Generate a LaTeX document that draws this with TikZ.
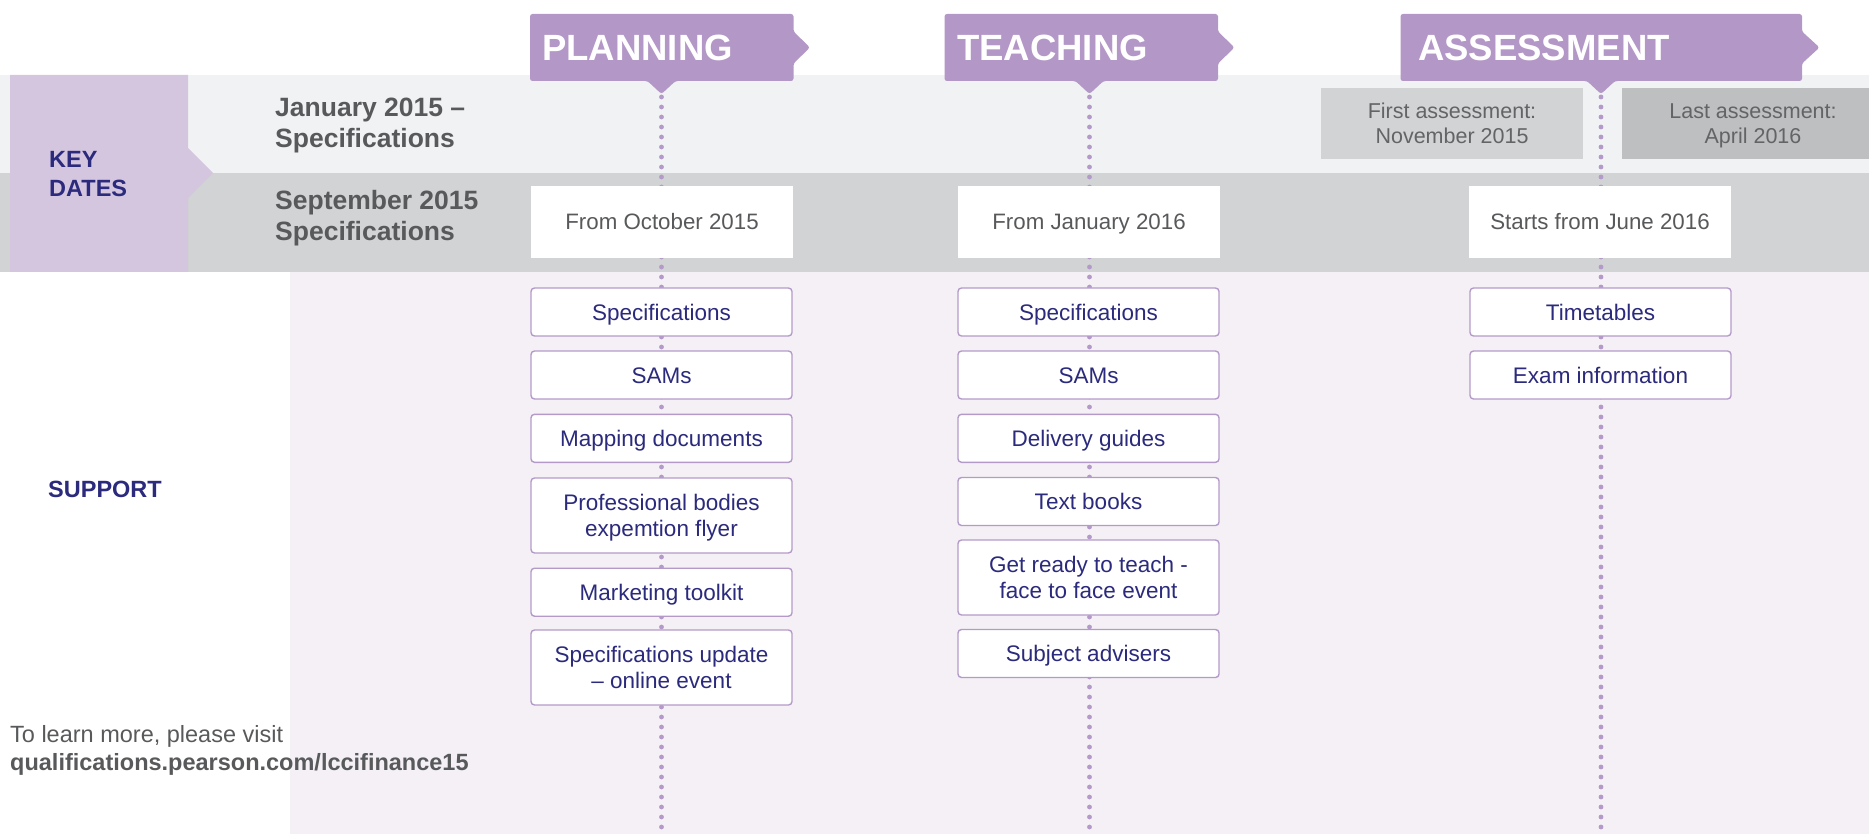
\documentclass[tikz,border=0pt]{standalone}
\usepackage{fontspec}
\setmainfont{Liberation Sans}
\definecolor{tabc}{HTML}{B397C6}
\definecolor{keyc}{HTML}{D5C6E0}
\definecolor{bandl}{HTML}{F1F2F4}
\definecolor{bandd}{HTML}{D1D3D4}
\definecolor{lav}{HTML}{F5F0F6}
\definecolor{navy}{HTML}{2B2A7C}
\definecolor{greyt}{HTML}{58595B}
\definecolor{greyl}{HTML}{636466}
\definecolor{dotc}{HTML}{B49AC9}
\definecolor{asone}{HTML}{D1D3D4}
\definecolor{astwo}{HTML}{BEBFC1}
\tikzset{
  dotline/.style={dotc, line width=4.8pt, line cap=round, dash pattern=on 0pt off 10pt},
  tabshape/.style={fill=tabc, rounded corners=2.5pt},
  keyshape/.style={fill=keyc},
  tabtext/.style={text=white, font=\bfseries\fontsize{36.5}{40}\selectfont, inner sep=0pt, anchor=west, text height=26.1pt, text depth=0pt},
  datebox/.style={fill=white, minimum width=262pt, minimum height=72pt, inner sep=0pt, text=greyt, font=\fontsize{22.3}{26}\selectfont, text height=16pt, text depth=0pt},
  asbox/.style={minimum width=262pt, minimum height=71pt, inner sep=0pt, text=greyl, font=\fontsize{21.5}{25}\selectfont, align=center, text height=40.4pt, text depth=0pt},
  supbox/.style={draw=dotc, line width=1.4pt, fill=white, rounded corners=3.5pt, minimum width=261pt, inner sep=0pt, text=navy, font=\fontsize{22.5}{25.5}\selectfont, align=center},
  one/.style={minimum height=48pt, text height=16.1pt, text depth=0pt},
  two/.style={minimum height=75pt, text height=41.6pt, text depth=0pt},
  keylbl/.style={font=\bfseries\fontsize{26.5}{31}\selectfont, text=greyt, align=left, anchor=west, inner sep=0pt, text height=50pt, text depth=0pt},
  sidelbl/.style={font=\bfseries\fontsize{23.5}{29}\selectfont, text=navy, align=left, anchor=west, inner sep=0pt},
  footlbl/.style={font=\fontsize{23.5}{28}\selectfont, text=greyt, align=left, anchor=west, inner sep=0pt, text height=44.8pt, text depth=0pt}
}
\begin{document}
\begin{tikzpicture}[x=1pt,y=-1pt]
\path[use as bounding box] (0,0) rectangle (1869,834);
\clip (0,0) rectangle (1869,834);
% background bands
\fill[bandl] (0,75) rectangle (1869,173);
\fill[bandd] (0,173) rectangle (1869,272);
\fill[lav] (290,272) rectangle (1869,834);
% key dates block
\fill[keyshape] (10,75) -- (188,75) -- (188,148) -- (213,173) -- (188,198) -- (188,272) -- (10,272) -- cycle;
\node[sidelbl, text height=45.8pt, text depth=0pt] (keydates) at (49,174.1) {KEY\\DATES};
\node[sidelbl, text height=16.8pt, text depth=0pt] (support) at (48,488.6) {SUPPORT};
\node[keylbl] (jan) at (275,123) {January 2015 --\\Specifications};
\node[keylbl] (sep) at (275,216) {September 2015\\Specifications};
% assessment grey boxes
\node[asbox, fill=asone] (first) at (1452,123.5) {First assessment:\\November 2015};
\node[asbox, fill=astwo] (last) at (1753,123.5) {Last assessment:\\April 2016};
% dotted timelines
\coordinate (pl-top) at (661.5,97);
\coordinate (pl-end) at (661.5,840);
\coordinate (te-top) at (1089.5,97);
\coordinate (te-end) at (1089.5,840);
\coordinate (as-top) at (1601,97);
\coordinate (as-end) at (1601,840);
\draw[dotline] (pl-top) -- (pl-end);
\draw[dotline] (te-top) -- (te-end);
\draw[dotline] (as-top) -- (as-end);
% tabs
\fill[tabshape] (530,14) -- (793.5,14) -- (793.5,31.5) -- (810,47.5) -- (793.5,63.5) -- (793.5,81) -- (675.5,81) -- (661.5,94) -- (647.5,81) -- (530,81) -- cycle;
\node[tabtext] (planning) at (542,47.5) {PLANNING};
\fill[tabshape] (944.5,14) -- (1218,14) -- (1218,31.5) -- (1234.5,47.5) -- (1218,63.5) -- (1218,81) -- (1103.5,81) -- (1089.5,94) -- (1075.5,81) -- (944.5,81) -- cycle;
\node[tabtext] (teaching) at (957,47.5) {TEACHING};
\fill[tabshape] (1400.5,14) -- (1802,14) -- (1802,31.5) -- (1819.5,47.5) -- (1802,63.5) -- (1802,81) -- (1615,81) -- (1601,94) -- (1587,81) -- (1400.5,81) -- cycle;
\node[tabtext] (assessment) at (1418,47.5) {ASSESSMENT};
% date boxes
\node[datebox] (pl-date) at (662,222) {From October 2015};
\node[datebox] (te-date) at (1089,222) {From January 2016};
\node[datebox] (as-date) at (1600,222) {Starts from June 2016};
% planning support
\node[supbox, one] (pl1) at (661.5,312) {Specifications};
\node[supbox, one] (pl2) at (661.5,375) {SAMs};
\node[supbox, one] (pl3) at (661.5,438.3) {Mapping documents};
\node[supbox, two] (pl4) at (661.5,515.5) {Professional bodies\\expemtion flyer};
\node[supbox, one] (pl5) at (661.5,592.2) {Marketing toolkit};
\node[supbox, two] (pl6) at (661.5,667.5) {Specifications update\\-- online event};
% teaching support
\node[supbox, one] (te1) at (1088.5,312) {Specifications};
\node[supbox, one] (te2) at (1088.5,375) {SAMs};
\node[supbox, one] (te3) at (1088.5,438.3) {Delivery guides};
\node[supbox, one] (te4) at (1088.5,501.5) {Text books};
\node[supbox, two] (te5) at (1088.5,577.5) {Get ready to teach -\\face to face event};
\node[supbox, one] (te6) at (1088.5,653.5) {Subject advisers};
% assessment support
\node[supbox, one] (as1) at (1600.5,312) {Timetables};
\node[supbox, one] (as2) at (1600.5,375) {Exam information};
% footer
\node[footlbl] (foot) at (10,747.6) {To learn more, please visit\\\textbf{qualifications.pearson.com/lccifinance15}};
\end{tikzpicture}
\end{document}
